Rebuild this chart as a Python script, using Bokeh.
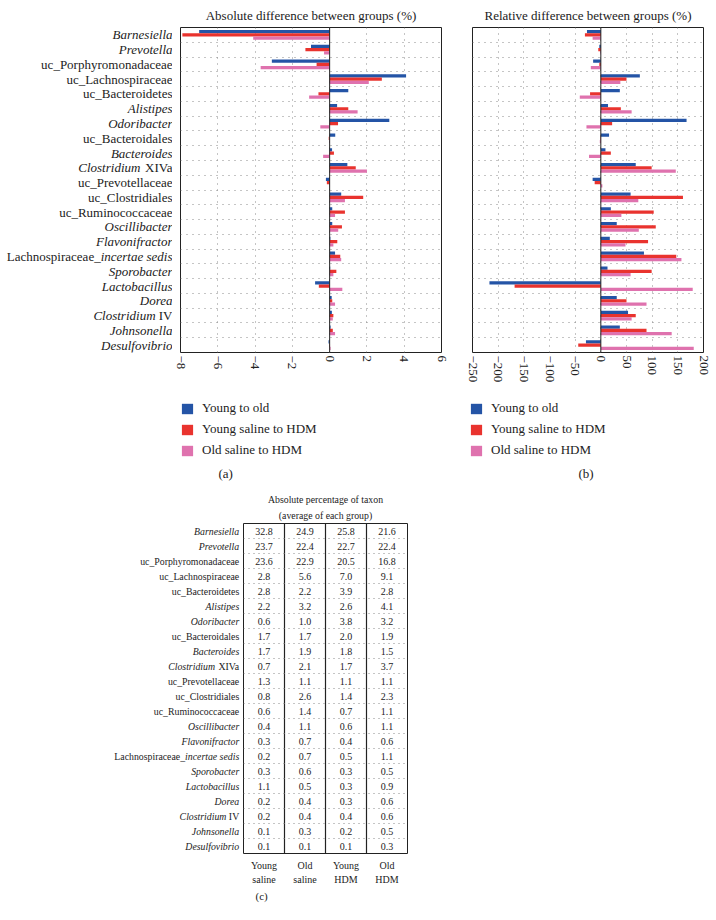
import math
from bokeh.plotting import figure
from bokeh.models import (FactorRange, Range1d, FixedTicker, ColumnDataSource, LinearAxis,
                          Legend, LegendItem, Label, Span, Spacer, Title)
from bokeh.transform import dodge
from bokeh.layouts import column, row
from bokeh.embed import file_html
from bokeh.resources import INLINE
from bokeh.core.properties import value, field

# ---------------- data ----------------
taxa = ["Barnesiella", "Prevotella", "uc_Porphyromonadaceae", "uc_Lachnospiraceae",
        "uc_Bacteroidetes", "Alistipes", "Odoribacter", "uc_Bacteroidales", "Bacteroides",
        "Clostridium XIVa", "uc_Prevotellaceae", "uc_Clostridiales", "uc_Ruminococcaceae",
        "Oscillibacter", "Flavonifractor", "Lachnospiraceae_incertae sedis", "Sporobacter",
        "Lactobacillus", "Dorea", "Clostridium IV", "Johnsonella", "Desulfovibrio"]

series_names = ["Young to old", "Young saline to HDM", "Old saline to HDM"]

abs_young_to_old = [-7.0, -1.0, -3.1, 4.1, 1.0, 0.4, 3.2, 0.3, 0.13, 0.95, -0.2, 0.62,
                    0.14, 0.14, 0.04, 0.29, 0.03, -0.78, 0.11, 0.12, 0.05, -0.06]
abs_young_saline_to_hdm = [-7.9, -1.3, -0.7, 2.8, -0.6, 1.0, 0.45, -0.05, 0.23, 1.4, -0.15, 1.8,
                           0.82, 0.66, 0.41, 0.57, 0.36, -0.58, 0.14, 0.2, 0.17, 0.02]
abs_old_saline_to_hdm = [-4.1, -0.3, -3.7, 2.1, -1.1, 1.5, -0.5, -0.02, -0.35, 2.0, 0.02, 0.82,
                         0.29, 0.46, 0.2, 0.62, 0.2, 0.68, 0.29, 0.17, 0.29, 0.05]

rel_young_to_old = [-27, -3, -15, 76, 37, 14, 167, 16, 9, 68, -16, 58,
                    19.5, 31, 17.5, 84, 13, -217, 31, 53, 37, -29]
rel_young_saline_to_hdm = [-31, -5, -3, 50, -21, 39, 22, -1, 19.5, 99, -12, 160,
                           103, 107, 92, 147, 99, -168, 50, 68, 89, -44]
rel_old_saline_to_hdm = [-16, -1, -19.5, 38, -41, 60, -28, -2, -23, 146, 3, 73,
                         40, 74, 48, 157, 58, 179, 89, 60, 138, 181]

groups = ["Young saline", "Old saline", "Young HDM", "Old HDM"]
group_label_line1 = ["Young", "Old", "Young", "Old"]
group_label_line2 = ["saline", "saline", "HDM", "HDM"]
pct_young_saline = [32.8, 23.7, 23.6, 2.8, 2.8, 2.2, 0.6, 1.7, 1.7, 0.7, 1.3, 0.8, 0.6, 0.4,
                    0.3, 0.2, 0.3, 1.1, 0.2, 0.2, 0.1, 0.1]
pct_old_saline = [24.9, 22.4, 22.9, 5.6, 2.2, 3.2, 1.0, 1.7, 1.9, 2.1, 1.1, 2.6, 1.4, 1.1,
                  0.7, 0.7, 0.6, 0.5, 0.4, 0.4, 0.3, 0.1]
pct_young_hdm = [25.8, 22.7, 20.5, 7.0, 3.9, 2.6, 3.8, 2.0, 1.8, 1.7, 1.1, 1.4, 0.7, 0.6,
                 0.4, 0.5, 0.3, 0.3, 0.3, 0.4, 0.2, 0.1]
pct_old_hdm = [21.6, 22.4, 16.8, 9.1, 2.8, 4.1, 3.2, 1.9, 1.5, 3.7, 1.1, 2.3, 1.1, 1.1,
               0.6, 1.1, 0.5, 0.9, 0.6, 0.6, 0.5, 0.3]

abs_ticks = [-8, -6, -4, -2, 0, 2, 4, 6]
abs_tick_labels = ["\u22128", "\u22126", "\u22124", "\u22122", "0", "2", "4", "6"]
rel_ticks = [-250, -200, -150, -100, -50, 0, 50, 100, 150, 200]
rel_tick_labels = ["\u2212250", "\u2212200", "\u2212150", "\u2212100", "\u221250",
                   "0", "50", "100", "150", "200"]

# ---------------- styles ----------------
FONT_NAME = "Liberation Serif"
FONT = value(FONT_NAME)
INK = "#222222"
COLORS = ["#2454a6", "#e9332e", "#df72ae"]
GRID = "#8a8a8a"
N = len(taxa)

ROMAN_W = {" ": 0.25, "X": 0.722, "I": 0.333, "V": 0.722, "a": 0.444}
ITALIC_W = {" ": 0.25, "i": 0.278, "n": 0.5, "c": 0.444, "e": 0.444, "r": 0.389,
            "t": 0.278, "a": 0.5, "s": 0.389, "d": 0.5}


def text_w(s, style, px):
    table = ITALIC_W if style == "italic" else ROMAN_W
    return sum(table.get(ch, 0.5) for ch in s) * px


def label_parts(name):
    if name.startswith("Clostridium "):
        return "Clostridium", "italic", name.split(" ", 1)[1], "normal", " "
    if name.startswith("Lachnospiraceae_"):
        return "Lachnospiraceae_", "normal", name.split("_", 1)[1], "italic", ""
    if name.startswith("uc_"):
        return "", "normal", name, "normal", ""
    return "", "italic", name, "italic", ""


def bare(p):
    p.xaxis.visible = False
    p.yaxis.visible = False
    p.xgrid.visible = False
    p.ygrid.visible = False
    p.outline_line_color = None


def label_figure(y_range, width, height, top, bottom, off, px):
    p = figure(width=width, height=height, x_range=Range1d(0, 1), y_range=y_range,
               min_border_left=0, min_border_right=0, min_border_top=top,
               min_border_bottom=bottom, output_backend="svg", toolbar_location=None)
    bare(p)
    heads, hstyles, tails, tstyles, hoffs = [], [], [], [], []
    for t in taxa:
        h, hs, tl, ts, gap = label_parts(t)
        heads.append(h); hstyles.append(hs); tails.append(tl); tstyles.append(ts)
        hoffs.append(off - text_w(tl, ts, px) - text_w(gap, "normal", px))
    src = ColumnDataSource(dict(taxon=taxa, xx=[1] * N, head=heads, hstyle=hstyles,
                                tail=tails, tstyle=tstyles, hoff=hoffs))
    common = dict(x="xx", y="taxon", source=src, text_align="right", text_baseline="middle",
                  text_font=FONT, text_font_size=f"{px}px", text_color=INK)
    p.text(text="tail", text_font_style=field("tstyle"), x_offset=off, **common)
    p.text(text="head", text_font_style=field("hstyle"), x_offset=field("hoff"), **common)
    return p


def add_bars(p, y_range, src):
    rends = []
    for i, (col, off) in enumerate(zip(["s0", "s1", "s2"], [0.22, 0.0, -0.22])):
        rends.append(p.hbar(y=dodge("taxon", off, range=y_range), left=0, right=col,
                            height=0.22, source=src, fill_color=COLORS[i], line_color=None))
    return rends


def bar_panel(title, y_range, src, ticks, tick_labels, width, height, left, right, top,
              bottom, standoff):
    p = figure(y_range=y_range, x_range=Range1d(ticks[0], ticks[-1]),
               width=width, height=height, output_backend="svg",
               toolbar_location=None, min_border_left=left, min_border_right=right,
               min_border_top=top, min_border_bottom=bottom)
    p.title.text = title
    p.title.align = "center"
    p.title.text_font = FONT_NAME
    p.title.text_font_size = "13px"
    p.title.text_font_style = "normal"
    p.title.text_color = INK
    p.title.standoff = standoff
    p.yaxis.visible = False
    ax = p.xaxis[0]
    ax.ticker = FixedTicker(ticks=ticks)
    ax.major_label_overrides = dict(zip(ticks, tick_labels))
    ax.major_label_orientation = -math.pi / 2
    ax.major_label_text_font = FONT_NAME
    ax.major_label_text_font_size = "13px"
    ax.major_label_text_color = INK
    ax.axis_line_color = None
    ax.major_tick_line_color = None
    ax.minor_tick_line_color = None
    ax.major_tick_out = 0
    ax.major_label_standoff = 3
    p.xgrid.ticker = FixedTicker(ticks=ticks)
    p.ygrid.ticker = FixedTicker(ticks=list(range(1, N)))
    for g in (p.xgrid[0], p.ygrid[0]):
        g.grid_line_color = GRID
        g.grid_line_dash = "1 5"
        g.grid_line_width = 1
    p.outline_line_color = INK
    p.outline_line_alpha = 1
    p.outline_line_width = 1
    add_bars(p, y_range, src)
    p.add_layout(Span(location=0, dimension="height", line_color=INK, line_width=1))
    return p


def legend_figure(width, height, y_range, src, cap_text, cap_x, cap_y):
    p = figure(width=width, height=height, x_range=Range1d(0, width),
               y_range=Range1d(height, 0), min_border_left=0, min_border_right=0,
               min_border_top=0, min_border_bottom=0, output_backend="svg",
               toolbar_location=None)
    bare(p)
    rends = add_bars(p, y_range, src)
    for r in rends:
        r.visible = False
    legend = Legend(items=[LegendItem(label=n, renderers=[r]) for n, r in zip(series_names, rends)],
                    location="top_left", orientation="vertical", glyph_width=14, glyph_height=13,
                    label_height=13, label_standoff=8, spacing=5, padding=0, margin=8,
                    border_line_color=None, background_fill_alpha=0, inactive_fill_alpha=0,
                    label_text_font=FONT_NAME, label_text_font_size="13px", label_text_color=INK)
    p.add_layout(legend)
    p.add_layout(Label(x=cap_x, y=cap_y, text=cap_text, text_font=FONT_NAME,
                       text_font_size="13px", text_color=INK, text_baseline="middle",
                       text_align="left"))
    return p


yr_a = FactorRange(factors=list(reversed(taxa)), range_padding=0)
yr_b = FactorRange(factors=list(reversed(taxa)), range_padding=0)
yr_c = FactorRange(factors=list(reversed(taxa)), range_padding=0)

src_abs = ColumnDataSource(dict(taxon=taxa, s0=abs_young_to_old, s1=abs_young_saline_to_hdm,
                                s2=abs_old_saline_to_hdm))
src_rel = ColumnDataSource(dict(taxon=taxa, s0=rel_young_to_old, s1=rel_young_saline_to_hdm,
                                s2=rel_old_saline_to_hdm))

TOP_H = 392
la = label_figure(yr_a, 172, TOP_H, 27, TOP_H - 27 - 328, 0, 13)
pa = bar_panel("Absolute difference between groups (%)", yr_a, src_abs,
               abs_ticks, abs_tick_labels, 284, TOP_H, 8, 15, 27, TOP_H - 27 - 328, 9)
pb = bar_panel("Relative difference between groups (%)", yr_b, src_rel,
               rel_ticks, rel_tick_labels, 260, TOP_H, 16, 13, 24, TOP_H - 24 - 328, 10)

LEG_H = 90
lga = legend_figure(289, LEG_H, yr_a, src_abs, "(a)", 46, 81)
lgb = legend_figure(255, LEG_H, yr_b, src_rel, "(b)", 117, 81)

# ---------------- table (c) ----------------
TAB_H = 423
col_centers = [i + 0.5 for i in range(len(groups))]
lc = label_figure(yr_c, 243, TAB_H, 41, TAB_H - 41 - 330, -4.3, 9.8)
pc = figure(x_range=Range1d(0, len(groups)), y_range=yr_c,
            width=174, height=TAB_H, output_backend="svg", toolbar_location=None,
            x_axis_location=None, y_axis_location=None, title=None,
            min_border_left=0, min_border_right=10, min_border_top=41,
            min_border_bottom=TAB_H - 41 - 330)
for txt, so in [("(average of each group)", 6), ("Absolute percentage of taxon", 0)]:
    pc.add_layout(Title(text=txt, align="center", text_font=FONT_NAME, text_font_size="9.8px",
                        text_font_style="normal", text_color=INK, standoff=so), "above")

for labels, so in [(group_label_line1, 6), (group_label_line2, 0)]:
    axc = LinearAxis(ticker=FixedTicker(ticks=col_centers),
                     major_label_overrides=dict(zip(col_centers, labels)))
    axc.major_label_text_font = FONT_NAME
    axc.major_label_text_font_size = "10px"
    axc.major_label_text_color = INK
    axc.axis_line_color = None
    axc.major_tick_line_color = None
    axc.minor_tick_line_color = None
    axc.major_tick_out = 0
    axc.major_tick_in = 0
    axc.minor_tick_out = 0
    axc.major_label_standoff = so
    pc.add_layout(axc, "below")
pc.add_layout(Title(text="(c)", align="left", offset=12, text_font=FONT_NAME,
                    text_font_size="11px", text_font_style="normal", text_color=INK,
                    standoff=0), "below")
pc.xgrid.ticker = FixedTicker(ticks=[1, 2, 3])
pc.xgrid.grid_line_color = INK
pc.xgrid.grid_line_width = 1.2
pc.ygrid.ticker = FixedTicker(ticks=list(range(1, N)))
pc.ygrid.grid_line_color = GRID
pc.ygrid.grid_line_dash = "1 4"
pc.outline_line_color = INK
pc.outline_line_alpha = 1

tx, ty, tt = [], [], []
for gx, vals in zip(col_centers, [pct_young_saline, pct_old_saline, pct_young_hdm, pct_old_hdm]):
    for t, v in zip(taxa, vals):
        tx.append(gx); ty.append(t); tt.append(f"{v:.1f}")
pc.text(x="x", y="y", text="t", source=ColumnDataSource(dict(x=tx, y=ty, t=tt)),
        text_align="center", text_baseline="middle", text_font=FONT, text_font_size="10px",
        text_color=INK)

layout = column(row(la, pa, pb),
                row(Spacer(width=172, height=LEG_H), lga, lgb),
                row(lc, pc))
open("out.html", "w").write(file_html(layout, INLINE))
